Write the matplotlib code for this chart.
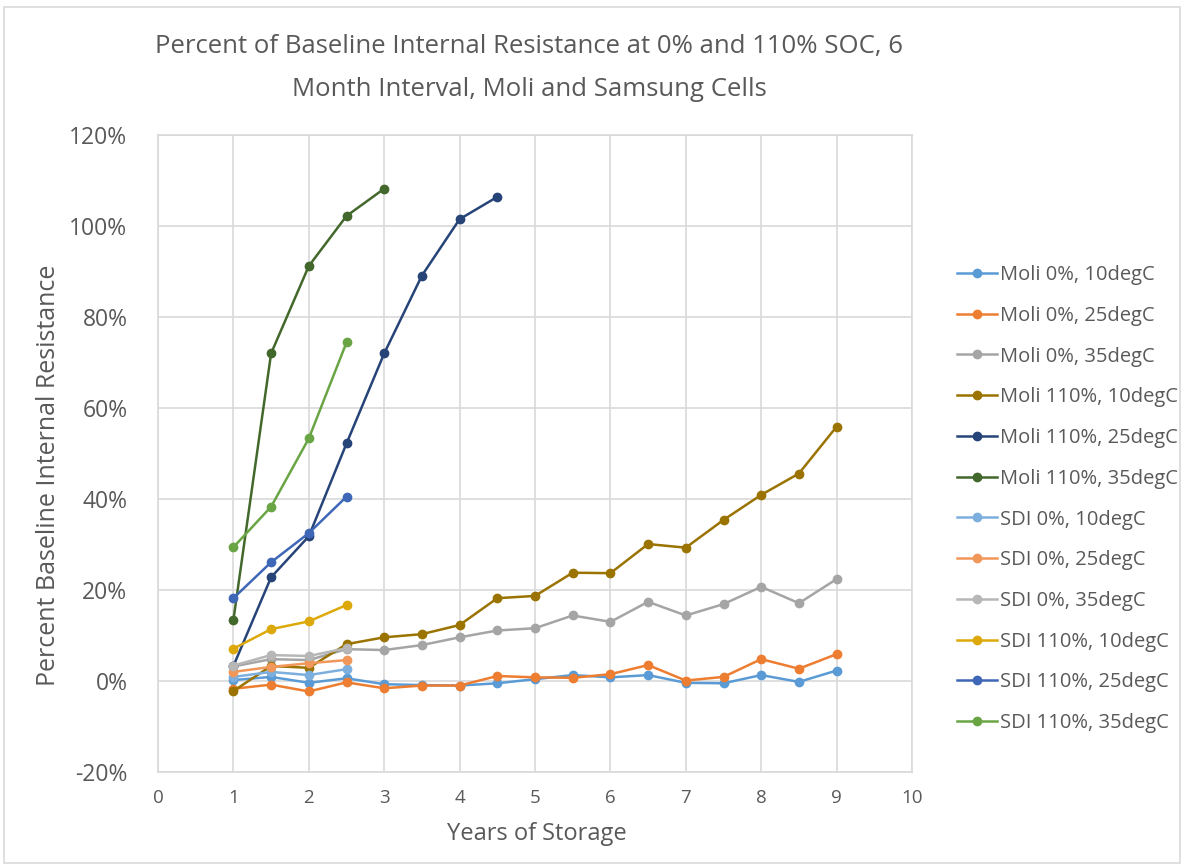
import matplotlib
matplotlib.use("Agg")
import matplotlib.pyplot as plt
from matplotlib.ticker import FuncFormatter, MultipleLocator
from matplotlib.patches import Rectangle

plt.rcParams['font.family'] = ['Open Sans', 'DejaVu Sans']

title = "Percent of Baseline Internal Resistance at 0% and 110% SOC, 6\nMonth Interval, Moli and Samsung Cells"
xlabel = "Years of Storage"
ylabel = "Percent Baseline Internal Resistance"

years_long = [1, 1.5, 2, 2.5, 3, 3.5, 4, 4.5, 5, 5.5, 6, 6.5, 7, 7.5, 8, 8.5, 9]
years_sdi = [1, 1.5, 2, 2.5]
years_m25 = [1, 1.5, 2, 2.5, 3, 3.5, 4, 4.5]
years_m35 = [1, 1.5, 2, 2.5, 3]

moli_0_10 = [0.2, 0.9, -0.4, 0.6, -0.7, -0.9, -1.0, -0.5, 0.4, 1.3, 0.8, 1.3, -0.4, -0.5, 1.3, -0.2, 2.3]
moli_0_25 = [-1.7, -0.8, -2.3, -0.3, -1.6, -1.0, -1.0, 1.1, 0.8, 0.7, 1.5, 3.5, 0.1, 0.9, 4.8, 2.7, 5.9]
moli_0_35 = [3.2, 4.8, 4.6, 7.0, 6.8, 7.9, 9.6, 11.1, 11.6, 14.4, 13.0, 17.4, 14.4, 16.9, 20.7, 17.1, 22.4]
moli_110_10 = [-2.2, 3.3, 2.9, 8.1, 9.6, 10.3, 12.3, 18.2, 18.7, 23.8, 23.7, 30.1, 29.3, 35.4, 40.9, 45.6, 55.9]
moli_110_25 = [3.3, 22.8, 31.8, 52.2, 72.0, 89.1, 101.5, 106.4]
moli_110_35 = [13.4, 72.0, 91.2, 102.2, 108.2]
sdi_0_10 = [0.9, 2.0, 1.3, 2.6]
sdi_0_25 = [2.0, 3.1, 3.9, 4.6]
sdi_0_35 = [3.4, 5.7, 5.5, 7.2]
sdi_110_10 = [7.1, 11.4, 13.1, 16.7]
sdi_110_25 = [18.2, 26.1, 32.5, 40.5]
sdi_110_35 = [29.4, 38.3, 53.3, 74.4]

series = [
    ("Moli 0%, 10degC", years_long, moli_0_10, "#5B9BD5"),
    ("Moli 0%, 25degC", years_long, moli_0_25, "#ED7D31"),
    ("Moli 0%, 35degC", years_long, moli_0_35, "#A5A5A5"),
    ("Moli 110%, 10degC", years_long, moli_110_10, "#9A7300"),
    ("Moli 110%, 25degC", years_m25, moli_110_25, "#264478"),
    ("Moli 110%, 35degC", years_m35, moli_110_35, "#43682B"),
    ("SDI 0%, 10degC", years_sdi, sdi_0_10, "#7CAFDD"),
    ("SDI 0%, 25degC", years_sdi, sdi_0_25, "#F1975A"),
    ("SDI 0%, 35degC", years_sdi, sdi_0_35, "#B7B7B7"),
    ("SDI 110%, 10degC", years_sdi, sdi_110_10, "#DDA90A"),
    ("SDI 110%, 25degC", years_sdi, sdi_110_25, "#3F67B8"),
    ("SDI 110%, 35degC", years_sdi, sdi_110_35, "#6AA545"),
]

fig = plt.figure(figsize=(11.84, 8.66), dpi=100)
ax = fig.add_axes([158/1184, 1-772/866, (912-158)/1184, (772-135)/866])

for name, xs, ys, c in series:
    ax.plot(xs, ys, color=c, lw=1.8, marker='o', markersize=6, label=name, zorder=3)

ax.set_xlim(0, 10)
ax.set_ylim(-20, 120)
ax.xaxis.set_major_locator(MultipleLocator(1))
ax.yaxis.set_major_locator(MultipleLocator(20))
ax.yaxis.set_major_formatter(FuncFormatter(lambda v, p: f"{v:.0f}%"))
ax.grid(True, color="#D9D9D9", lw=1.2, zorder=0)
for s in ax.spines.values():
    s.set_color("#D9D9D9")
    s.set_linewidth(1.2)
ax.tick_params(axis='y', length=0, labelsize=16.5, colors="#595959", pad=22)
ax.tick_params(axis='x', length=0, labelsize=13.5, colors="#595959", pad=12)
ax.set_xlabel(xlabel, fontsize=17, color="#595959")
ax.set_ylabel(ylabel, fontsize=18, color="#595959")
ax.xaxis.set_label_coords(0.503, -0.079)
ax.yaxis.set_label_coords(-0.128, 0.466)

fig.text(529/1184, 1-68/866, title, ha='center', va='center', fontsize=18.5,
         color="#595959", linespacing=1.9)

leg = fig.legend(loc='upper left', bbox_to_anchor=(949/1184, 1-257/866), frameon=False,
                 fontsize=14.5, labelcolor="#595959", handlelength=2.0, handletextpad=0.15,
                 labelspacing=1.03, borderaxespad=0)

fig.patches.append(Rectangle((4/1184, 0.003), 1-8/1184, 1-10/866, transform=fig.transFigure,
                             fill=False, edgecolor="#D9D9D9", lw=1.2))

fig.savefig("out.png", dpi=100)
